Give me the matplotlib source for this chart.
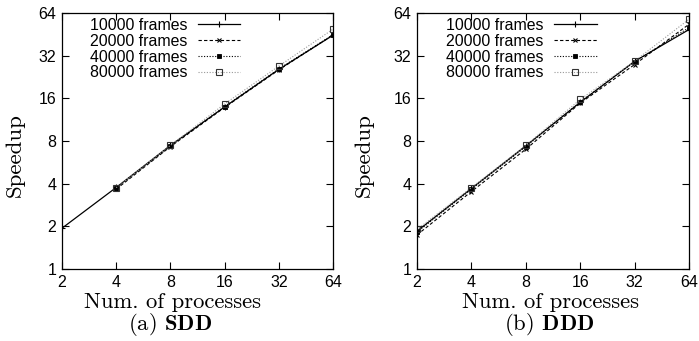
import numpy as np
import matplotlib
matplotlib.use("Agg")
import matplotlib.pyplot as plt
from matplotlib.ticker import FixedLocator, FixedFormatter, NullLocator

plt.rcParams['font.family'] = ['Liberation Sans', 'DejaVu Sans']
plt.rcParams['mathtext.fontset'] = 'cm'
plt.rcParams['axes.formatter.use_mathtext'] = True

procs = [2, 4, 8, 16, 32, 64]
labels = ['10000 frames', '20000 frames', '40000 frames', '80000 frames']

# SDD speedups (only 10000 frames measured at 2 procs)
sdd = {
    '10000 frames': [1.94, 3.76, 7.45, 13.9, 25.6, 44.6],
    '20000 frames': [None, 3.66, 7.3, 13.8, 25.4, 44.8],
    '40000 frames': [None, 3.72, 7.35, 14.0, 25.8, 45.0],
    '80000 frames': [None, 3.75, 7.45, 14.6, 27.0, 49.2],
}
# DDD speedups
ddd = {
    '10000 frames': [1.85, 3.7, 7.4, 15.0, 29.2, 48.9],
    '20000 frames': [1.74, 3.52, 7.0, 14.8, 27.7, 53.3],
    '40000 frames': [1.82, 3.65, 7.3, 15.1, 29.0, 50.5],
    '80000 frames': [1.9, 3.75, 7.45, 15.7, 29.3, 57.8],
}

styles = {
    '10000 frames': dict(color='black', ls='-', marker='+', ms=5, mew=0.8, lw=0.9),
    '20000 frames': dict(color='black', ls=(0, (3, 2)), marker='x', ms=3.5, mew=0.8, lw=0.8),
    '40000 frames': dict(color='black', ls=(0, (1, 1.5)), marker='s', ms=3, mew=0.6, lw=0.8),
    '80000 frames': dict(color='#999999', ls=(0, (1, 1.5)), marker='s', ms=4.5, mew=0.8,
                         mfc='none', mec='#333333', lw=0.8),
}

W, H = 699, 341
fig = plt.figure(figsize=(W / 100, H / 100), dpi=100)
ax1 = fig.add_axes([62 / W, 1 - 269 / H, 271 / W, 256 / H])
ax2 = fig.add_axes([417 / W, 1 - 269 / H, 272 / W, 256 / H])

serif = 'cmr10'
panels = [(ax1, sdd, '(a)', 'SDD', 15, 172, 0.103),
          (ax2, ddd, '(b)', 'DDD', 364, 551, 0.107)]

for ax, data, cap, tag, ylx, xlx, legx in panels:
    for lab in labels:
        xs = [p for p, v in zip(procs, data[lab]) if v is not None]
        ys = [v for v in data[lab] if v is not None]
        ax.plot(xs, ys, label=lab, **styles[lab])
    ax.set_xscale('log', base=2)
    ax.set_yscale('log', base=2)
    ax.set_xlim(2, 64)
    ax.set_ylim(1, 64)
    ax.xaxis.set_major_locator(FixedLocator(procs))
    ax.xaxis.set_major_formatter(FixedFormatter([str(p) for p in procs]))
    yt = [1, 2, 4, 8, 16, 32, 64]
    ax.yaxis.set_major_locator(FixedLocator(yt))
    ax.yaxis.set_major_formatter(FixedFormatter([str(v) for v in yt]))
    ax.xaxis.set_minor_locator(NullLocator())
    ax.yaxis.set_minor_locator(NullLocator())
    ax.tick_params(direction='in', top=True, right=True, length=5, width=0.8,
                   labelsize=11.5, pad=4)
    for s in ax.spines.values():
        s.set_linewidth(0.9)
    fig.text(ylx / W, 1 - 155 / H, 'Speedup', family=serif, fontsize=16.5,
             rotation=90, ha='center', va='center')
    fig.text(xlx / W, 1 - 302 / H, 'Num. of processes', family=serif, fontsize=16.3,
             ha='center', va='center')
    fig.text((xlx - 2) / W, 1 - 325 / H, cap + r' $\mathbf{' + tag + '}$', family=serif,
             fontsize=16.3, ha='center', va='center')
    ax.legend(loc='upper left', markerfirst=False, frameon=False, fontsize=11.4,
              handlelength=2.7, handletextpad=0.65, labelspacing=0.06,
              borderpad=0, borderaxespad=0, bbox_to_anchor=(legx, 0.982))

fig.savefig('out.png', dpi=100)
